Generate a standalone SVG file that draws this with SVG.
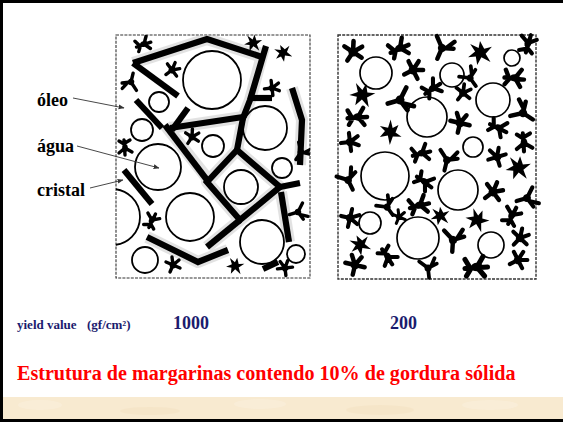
<svg xmlns="http://www.w3.org/2000/svg" width="563" height="422" viewBox="0 0 563 422">
<style>
.edge{fill:none;stroke:#333;stroke-width:1.1;stroke-dasharray:3 1.2}
.cl{fill:none;stroke:#000;stroke-width:1.8}
.cr{fill:none;stroke:#000;stroke-width:1.7}
.net{fill:none;stroke:#000;stroke-width:6.2;stroke-linejoin:miter;stroke-linecap:butt}
.haze{fill:none;stroke:#b9b9b9;stroke-width:12;stroke-linejoin:round;opacity:.4}
.xt{fill:none;stroke:#000;stroke-width:3.4;stroke-linecap:round;stroke-linejoin:round}
.dot{fill:#000}
.lab{font-family:"Liberation Serif","Times New Roman",serif;font-weight:bold;font-size:18px;fill:#000}
.val{font-family:"Liberation Serif","Times New Roman",serif;font-weight:bold;fill:#1b1b6e}
.title{font-family:"Liberation Serif","Times New Roman",serif;font-weight:bold;font-size:20.1px;fill:#ff0000}
.ptr{fill:none;stroke:#333;stroke-width:0.9;marker-end:url(#tip)}
</style>
<defs>
  <marker id="tip" viewBox="0 0 10 10" refX="9" refY="5" markerWidth="6" markerHeight="6" orient="auto" markerUnits="userSpaceOnUse">
    <path d="M0,1 L10,5 L0,9 Z" fill="#333"/>
  </marker>
  <!-- fat crystal shapes, reused with rotation/scale -->
  <g id="xa"><path class="xt" d="M0,0L-7,-3M0,0L-1,-8M0,0L6,-5M0,0L7,3M0,0L-3,7"/><circle class="dot" r="3.4"/></g>
  <g id="xb"><path class="xt" d="M-8,1L7,0M0,0L4,-7M0,0L5,6M-5,0L-8,-5M-4,1L-7,6"/><ellipse class="dot" rx="4" ry="2.8"/></g>
  <g id="xc"><path class="xt" d="M0,0L-8,-6M0,0L8,-4M0,0L1,9M3,-2L6,-9"/><circle class="dot" r="3.2"/></g>
  <g id="xd"><path class="dot" d="M0,-8.5L3,-3L8.5,-4.5L4,0.5L7.5,6.5L1,3L-2,8.5L-3,2.5L-8.5,3L-3.5,-1L-7,-6.5L-1,-3.5Z"/></g>
  <clipPath id="lclip"><rect x="116" y="35" width="194" height="243"/></clipPath>
</defs>

<!-- slide background and frame -->
<rect width="563" height="422" fill="#fff"/>
<rect x="3" y="397" width="560" height="22" fill="#f8ead0"/>
<g opacity=".3">
  <ellipse cx="40" cy="405" rx="22" ry="5" fill="#fdf6ea"/>
  <ellipse cx="150" cy="411" rx="30" ry="4" fill="#f1dcb8"/>
  <ellipse cx="260" cy="404" rx="26" ry="5" fill="#fdf6ea"/>
  <ellipse cx="380" cy="410" rx="34" ry="5" fill="#f1dcb8"/>
  <ellipse cx="490" cy="405" rx="28" ry="5" fill="#fdf6ea"/>
</g>
<path d="M0,0H563V3H3V419H563V422H0Z" fill="#000"/>

<!-- left structure: continuous crystal network -->
<g id="panel-network">
  <path class="edge" d="M116,35H310V278H116Z"/>
  <g clip-path="url(#lclip)">
    <g class="haze">
      <path d="M133,63L207,39L262,57"/><path d="M264,48L250,100L243,118L237,150"/>
      <path d="M170,128L243,117"/><path d="M165,125L207,178"/>
      <path d="M207,182L237,150L280,187L240,220Z"/><path d="M240,220L207,247"/>
      <path d="M147,237L198,262L228,250"/><path d="M281,192L289,242"/>
      <path d="M292,88L302,120L300,165"/>
    </g>
    <circle class="cl" cx="212" cy="80" r="29"/>
    <circle class="cl" cx="159" cy="102" r="10"/>
    <circle class="cl" cx="142" cy="130" r="11"/>
    <circle class="cl" cx="158" cy="167" r="23"/>
    <circle class="cl" cx="265" cy="128" r="22"/>
    <circle class="cl" cx="213" cy="146" r="11"/>
    <circle class="cl" cx="282" cy="168" r="10"/>
    <circle class="cl" cx="241" cy="187" r="17"/>
    <circle class="cl" cx="190" cy="217" r="24"/>
    <circle class="cl" cx="262" cy="242" r="22"/>
    <circle class="cl" cx="145" cy="260" r="13"/>
    <circle class="cl" cx="296" cy="254" r="9"/>
    <circle class="cl" cx="112" cy="217" r="28"/>
    <g class="net">
      <path d="M133,63L207,39L262,57"/>
      <path d="M133,63L178,96"/>
      <path d="M266,46L250,100L243,118L237,150"/>
      <path d="M170,128L243,117"/>
      <path d="M188,108L172,130"/>
      <path d="M136,100L162,128"/>
      <path d="M165,125L207,180"/>
      <path d="M207,182L237,150L280,187L240,220Z"/>
      <path d="M280,187L300,183"/>
      <path d="M240,220L207,247"/>
      <path d="M147,237L198,262L228,250"/>
      <path d="M124,170L152,204"/>
      <path d="M281,192L289,242"/>
      <path d="M263,269L278,262"/>
      <path d="M292,88L302,120L300,165"/>
      <path d="M250,98L272,98"/>
    </g>
    <use href="#xb" transform="translate(144,44) rotate(-15)"/>
    <use href="#xa" transform="translate(172,70) rotate(30)"/>
    <use href="#xd" transform="translate(253,43) rotate(10)"/>
    <use href="#xd" transform="translate(283,53) rotate(-20)"/>
    <use href="#xa" transform="translate(272,88) rotate(60)"/>
    <use href="#xc" transform="translate(131,82) rotate(200)"/>
    <use href="#xb" transform="translate(125,148) rotate(90)"/>
    <use href="#xa" transform="translate(192,137) rotate(10)"/>
    <use href="#xc" transform="translate(301,152) rotate(40)"/>
    <use href="#xb" transform="translate(152,220) rotate(-60)"/>
    <use href="#xa" transform="translate(173,265) rotate(0)"/>
    <use href="#xd" transform="translate(235,266) rotate(15)"/>
    <use href="#xa" transform="translate(285,268) rotate(-30)"/>
    <use href="#xc" transform="translate(298,212) rotate(80)"/>
  </g>
</g>

<!-- right structure: dispersed crystals -->
<g id="panel-dispersed">
  <path class="edge" d="M338,35H536V279H338Z" style="stroke-width:1.4"/>
  <circle class="cr" cx="376" cy="73" r="16"/>
  <circle class="cr" cx="452" cy="75" r="12"/>
  <circle class="cr" cx="512" cy="58" r="8"/>
  <circle class="cr" cx="427" cy="117" r="20"/>
  <circle class="cr" cx="493" cy="100" r="17"/>
  <circle class="cr" cx="473" cy="147" r="10"/>
  <circle class="cr" cx="385" cy="176" r="24"/>
  <circle class="cr" cx="458" cy="190" r="20"/>
  <circle class="cr" cx="370" cy="223" r="11"/>
  <circle class="cr" cx="418" cy="238" r="21"/>
  <circle class="cr" cx="491" cy="245" r="13"/>
  <use href="#xa" transform="translate(353,52) rotate(10) scale(1.35)"/>
  <use href="#xb" transform="translate(400,48) rotate(-20) scale(1.3)"/>
  <use href="#xc" transform="translate(442,48) rotate(30) scale(1.3)"/>
  <use href="#xd" transform="translate(480,53) rotate(0) scale(1.4)"/>
  <use href="#xb" transform="translate(528,43) rotate(-70) scale(1.2)"/>
  <use href="#xa" transform="translate(413,70) rotate(40) scale(1.3)"/>
  <use href="#xc" transform="translate(470,78) rotate(-30) scale(1.1)"/>
  <use href="#xb" transform="translate(515,78) rotate(10) scale(1.3)"/>
  <use href="#xd" transform="translate(362,95) rotate(20) scale(1.4)"/>
  <use href="#xc" transform="translate(400,100) rotate(80) scale(1.4)"/>
  <use href="#xb" transform="translate(433,88) rotate(-30) scale(1.2)"/>
  <use href="#xa" transform="translate(463,93) rotate(15) scale(1.1)"/>
  <use href="#xb" transform="translate(358,117) rotate(0) scale(1.3)"/>
  <use href="#xd" transform="translate(390,132) rotate(50) scale(1.3)"/>
  <use href="#xa" transform="translate(460,123) rotate(-10) scale(1.3)"/>
  <use href="#xb" transform="translate(499,128) rotate(30) scale(1.2)"/>
  <use href="#xc" transform="translate(523,113) rotate(-50) scale(1.3)"/>
  <use href="#xa" transform="translate(350,142) rotate(60) scale(1.2)"/>
  <use href="#xb" transform="translate(422,153) rotate(-10) scale(1.2)"/>
  <use href="#xc" transform="translate(447,160) rotate(20) scale(1.2)"/>
  <use href="#xa" transform="translate(497,157) rotate(-40) scale(1.2)"/>
  <use href="#xb" transform="translate(524,143) rotate(90) scale(1.2)"/>
  <use href="#xd" transform="translate(518,168) rotate(10) scale(1.4)"/>
  <use href="#xc" transform="translate(348,180) rotate(-20) scale(1.2)"/>
  <use href="#xb" transform="translate(425,182) rotate(40) scale(1.2)"/>
  <use href="#xa" transform="translate(493,192) rotate(30) scale(1.3)"/>
  <use href="#xc" transform="translate(527,198) rotate(80) scale(1.2)"/>
  <use href="#xb" transform="translate(420,205) rotate(-10) scale(1.3)"/>
  <use href="#xd" transform="translate(440,216) rotate(0) scale(1.1)"/>
  <use href="#xa" transform="translate(350,218) rotate(80) scale(1.2)"/>
  <use href="#xc" transform="translate(387,207) rotate(-30) scale(1.1)"/>
  <use href="#xa" transform="translate(399,217) rotate(0) scale(0.9)"/>
  <use href="#xd" transform="translate(477,220) rotate(30) scale(1.3)"/>
  <use href="#xb" transform="translate(512,215) rotate(-60) scale(1.2)"/>
  <use href="#xc" transform="translate(453,240) rotate(10) scale(1.3)"/>
  <use href="#xa" transform="translate(520,238) rotate(20) scale(1.2)"/>
  <use href="#xd" transform="translate(360,245) rotate(-20) scale(1.2)"/>
  <use href="#xb" transform="translate(388,257) rotate(60) scale(1.2)"/>
  <use href="#xa" transform="translate(355,265) rotate(-10) scale(1.3)"/>
  <use href="#xc" transform="translate(428,268) rotate(0) scale(1.1)"/>
  <use href="#xb" transform="translate(477,267) rotate(0) scale(1.5)"/>
  <use href="#xa" transform="translate(518,260) rotate(40) scale(1.2)"/>
</g>

<!-- component labels -->
<g id="label-oleo"><text class="lab" x="37" y="106">óleo</text></g>
<g id="label-agua"><text class="lab" x="37" y="152">água</text></g>
<g id="label-cristal"><text class="lab" x="37" y="196">cristal</text></g>

<!-- pointer lines -->
<g id="connectors">
  <path class="ptr" d="M73,98L124,108"/>
  <path class="ptr" d="M77,146L159,168"/>
  <path class="ptr" d="M90,188L123,180"/>
</g>

<!-- values and caption -->
<g id="yield">
  <text class="val" x="17" y="329" font-size="13">yield value</text>
  <text class="val" x="87" y="329" font-size="13">(gf/cm²)</text>
  <text class="val" x="173" y="329" font-size="18">1000</text>
  <text class="val" x="390" y="329" font-size="18">200</text>
</g>
<g id="caption"><text class="title" x="17" y="380">Estrutura de margarinas contendo 10% de gordura sólida</text></g>
</svg>
